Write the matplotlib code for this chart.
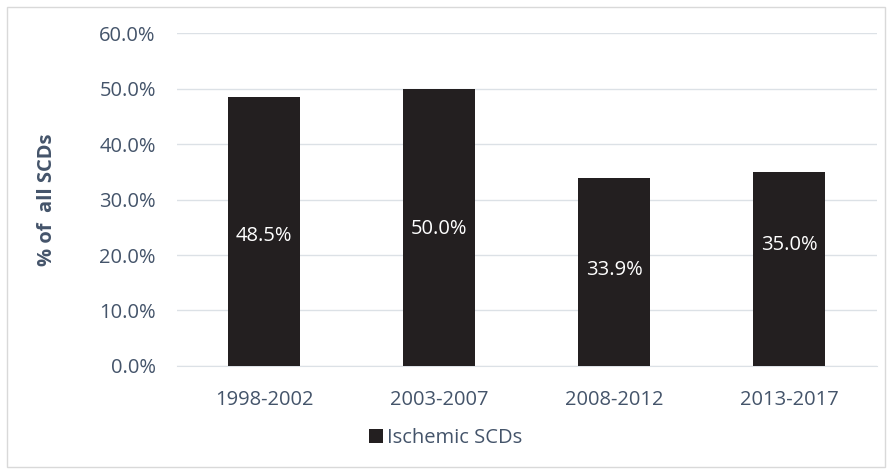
import matplotlib.pyplot as plt
from matplotlib.patches import Rectangle

# data
periods = ["1998-2002", "2003-2007", "2008-2012", "2013-2017"]
ischemic_pct = [48.5, 50.0, 33.9, 35.0]
# where the value labels sit inside the bars (in % units)
label_y = [23.4, 24.7, 17.3, 21.8]

text_col = "#44546A"
grid_col = "#DCE1E6"

plt.rcParams["font.family"] = ["Open Sans", "DejaVu Sans"]

fig = plt.figure(figsize=(8.92, 4.74), dpi=100)
ax = fig.add_axes([0.198, 0.228, 0.785, 0.702])

# outer chart border
fig.patches.append(Rectangle((0.008, 0.015), 0.984, 0.97, transform=fig.transFigure,
                             fill=False, edgecolor="#D9D9D9", linewidth=1))

x = range(len(periods))
bars = ax.bar(x, ischemic_pct, width=0.41, color="#231F20", label="Ischemic SCDs", zorder=3)

for xi, v, ly in zip(x, ischemic_pct, label_y):
    ax.text(xi, ly, f"{v:.1f}%", color="white", ha="center", va="center", fontsize=14.5, zorder=4)

ax.set_xlim(-0.5, len(periods) - 0.5)
ax.set_ylim(0, 60)
ax.set_yticks(range(0, 61, 10))
ax.set_yticklabels([f"{t:.1f}%" for t in range(0, 61, 10)])
ax.set_xticks(list(x))
ax.set_xticklabels(periods)
ax.tick_params(axis="both", length=0, labelsize=14.5, labelcolor=text_col)
ax.tick_params(axis="y", pad=15)
ax.tick_params(axis="x", pad=17)

ax.grid(axis="y", color=grid_col, linewidth=1, zorder=0)
for s in ["top", "right", "left"]:
    ax.spines[s].set_visible(False)
ax.spines["bottom"].set_color(grid_col)

ax.set_ylabel("% of  all SCDs", fontsize=14.5, fontweight="bold", color=text_col, labelpad=30)

ax.legend(loc="center", bbox_to_anchor=(0.5, 1 - 438 / 474), bbox_transform=fig.transFigure,
          frameon=False, fontsize=14.5, labelcolor=text_col, handlelength=0.7, handleheight=0.7,
          handletextpad=0.2)

fig.savefig("out.png")
